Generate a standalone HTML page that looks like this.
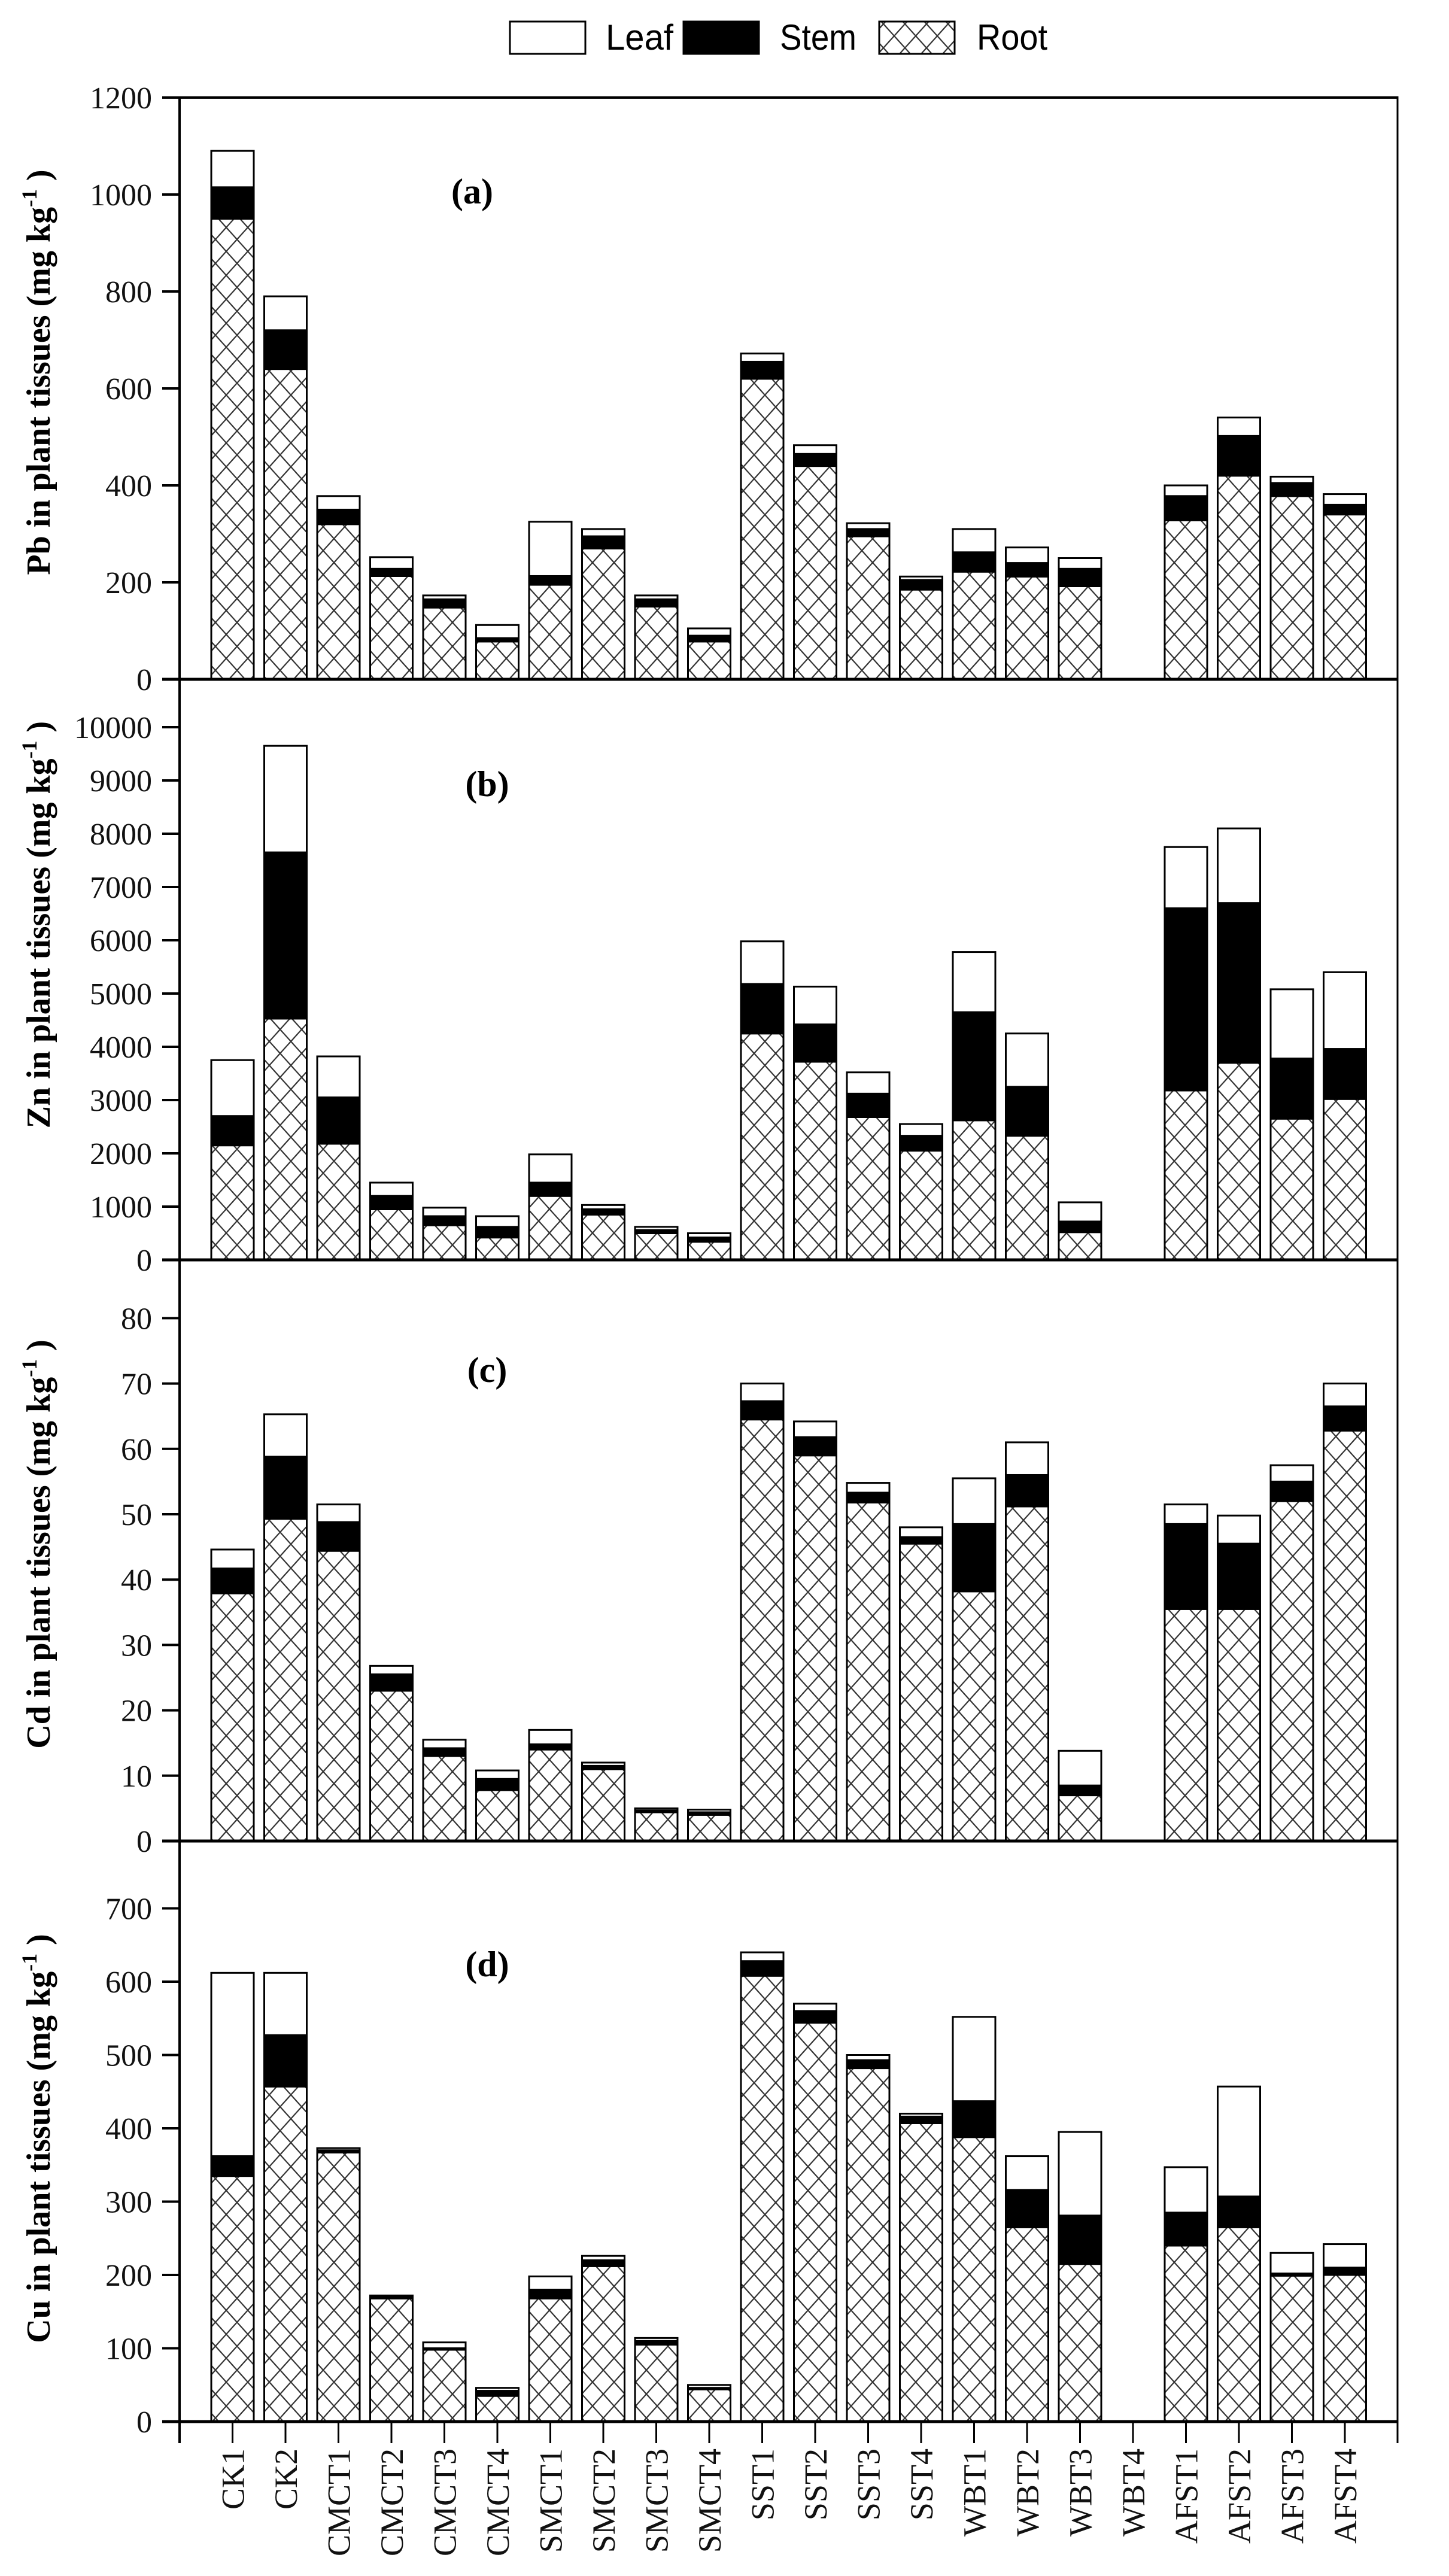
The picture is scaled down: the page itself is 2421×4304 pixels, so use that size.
<!DOCTYPE html>
<html><head><meta charset="utf-8"><style>
html,body{margin:0;padding:0;background:#fff;}
svg{display:block;}
</style></head><body>
<svg id="s" xmlns="http://www.w3.org/2000/svg" width="2421" height="4304" viewBox="0 0 2421 4304">
<defs>
<pattern id="h" patternUnits="userSpaceOnUse" width="36" height="40" x="0" y="0">
<rect width="36" height="40" fill="#fff"/>
<path d="M0,0 L36,40 M36,0 L0,40" stroke="#333" stroke-width="2.2" fill="none"/>
</pattern>
</defs>
<g id="g"></g>
</svg>
<script>
const NS="http://www.w3.org/2000/svg";
const g=document.getElementById('g');
function el(t,a,txt){const e=document.createElementNS(NS,t);for(const k in a)e.setAttribute(k,a[k]);if(txt!==undefined)e.textContent=txt;g.appendChild(e);return e;}
const names=["CK1","CK2","CMCT1","CMCT2","CMCT3","CMCT4","SMCT1","SMCT2","SMCT3","SMCT4","SST1","SST2","SST3","SST4","WBT1","WBT2","WBT3","WBT4","AFST1","AFST2","AFST3","AFST4"];
const L=300,R=2335,P=88.5,BW=71;
const panels=[
{top:163,zero:1135,k:0.81,ticks:[0,200,400,600,800,1000,1200],el:"Pb",lab:"(a)",lx:789,ly:340,ty:622,
d:[[1090,1015,950],[790,720,640],[378,350,320],[252,228,213],[173,165,148],[112,85,78],[325,213,195],[310,295,270],[173,165,150],[105,90,78],[672,655,620],[483,465,440],[322,310,295],[212,205,185],[310,262,222],[272,240,212],[250,228,192],null,[400,378,328],[540,502,420],[418,405,378],[382,360,340]]},
{top:1135,zero:2105,k:0.089,ticks:[0,1000,2000,3000,4000,5000,6000,7000,8000,9000,10000],el:"Zn",lab:"(b)",lx:814,ly:1330,ty:1545,
d:[[3750,2700,2150],[9650,7650,4530],[3820,3050,2180],[1450,1200,950],[980,820,650],[820,620,420],[1980,1450,1200],[1030,950,850],[620,560,500],[500,420,340],[5980,5180,4250],[5130,4420,3720],[3520,3120,2680],[2550,2330,2050],[5780,4650,2620],[4250,3250,2330],[1080,720,520],null,[7750,6600,3180],[8100,6700,3700],[5080,3780,2650],[5400,3960,3020]]},
{top:2105,zero:3076,k:10.92,ticks:[0,10,20,30,40,50,60,70,80],el:"Cd",lab:"(c)",lx:814,ly:2309,ty:2580,
d:[[44.6,41.7,37.9],[65.3,58.8,49.3],[51.5,48.8,44.4],[26.8,25.5,23],[15.5,14.2,13],[10.8,9.5,7.8],[17,14.8,14],[12,11.5,11],[5,4.7,4.4],[4.8,4.4,4],[70,67.3,64.5],[64.2,61.8,59],[54.8,53.3,51.8],[48,46.5,45.5],[55.5,48.5,38.2],[61,56,51.2],[13.8,8.5,7],null,[51.5,48.5,35.5],[49.8,45.5,35.5],[57.5,55,52],[70,66.5,62.8]]},
{top:3076,zero:4046,k:1.225,ticks:[0,100,200,300,400,500,600,700],el:"Cu",lab:"(d)",lx:814,ly:3302,ty:3573,
d:[[612,362,335],[612,527,457],[373,370,367],[172,170,168],[108,100,98],[46,42,35],[198,180,168],[226,220,212],[114,110,105],[50,46,44],[640,628,608],[570,560,544],[500,493,482],[420,416,407],[552,437,388],[362,316,265],[395,281,215],null,[347,285,240],[457,307,265],[230,202,199],[242,210,200]]}
];
const serif='"Liberation Serif", "DejaVu Serif", serif';
panels.forEach(p=>{
  p.d.forEach((v,i)=>{
    if(!v)return;
    const cx=L+P*(i+1),x=cx-BW/2;
    const y=val=>p.zero-val*p.k;
    // root
    el('rect',{x:x,y:y(v[2]),width:BW,height:p.zero-y(v[2]),fill:'url(#h)',stroke:'#000','stroke-width':3});
    el('rect',{x:x,y:y(v[1]),width:BW,height:y(v[2])-y(v[1]),fill:'#000',stroke:'#000','stroke-width':3});
    el('rect',{x:x,y:y(v[0]),width:BW,height:y(v[1])-y(v[0]),fill:'#fff',stroke:'#000','stroke-width':3});
  });
  p.ticks.forEach(t=>{
    const yy=p.zero-t*p.k;
    el('line',{x1:271,y1:yy,x2:L,y2:yy,stroke:'#000','stroke-width':4});
    el('text',{x:254,y:yy+18,'text-anchor':'end','font-family':serif,'font-size':52,fill:'#111'},String(t));
  });
  el('line',{x1:L-29,y1:p.zero,x2:R,y2:p.zero,stroke:'#000','stroke-width':5});
  el('text',{x:p.lx,y:p.ly,'text-anchor':'middle','font-family':serif,'font-size':60,'font-weight':'bold'},p.lab);
  const t=el('text',{transform:`translate(83,${p.ty}) rotate(-90)`,'text-anchor':'middle','font-family':serif,'font-size':56,'font-weight':'bold'});
  t.appendChild(document.createTextNode(p.el+" in plant tissues (mg kg"));
  const sp=document.createElementNS(NS,'tspan');sp.setAttribute('dy',-22);sp.setAttribute('font-size',36);sp.textContent="-1";t.appendChild(sp);
  const sp2=document.createElementNS(NS,'tspan');sp2.setAttribute('dy',22);sp2.textContent=" )";t.appendChild(sp2);
});
// frame
el('line',{x1:L,y1:163,x2:R,y2:163,stroke:'#000','stroke-width':4});
el('line',{x1:L,y1:161,x2:L,y2:4082,stroke:'#000','stroke-width':4});
el('line',{x1:R,y1:161,x2:R,y2:4082,stroke:'#000','stroke-width':3});
names.forEach((n,i)=>{
  const cx=L+P*(i+1);
  el('line',{x1:cx,y1:4046,x2:cx,y2:4082,stroke:'#000','stroke-width':3});
  el('text',{transform:`translate(${cx+19},4091) rotate(-90)`,'text-anchor':'end','font-family':serif,'font-size':54,fill:'#111'},n);
});
// legend
const sans='"Liberation Sans", Arial, sans-serif';
el('rect',{x:852,y:36,width:126,height:54,fill:'#fff',stroke:'#000','stroke-width':3});
el('text',{x:1012,y:83,'font-family':sans,'font-size':60,textLength:113,lengthAdjust:'spacingAndGlyphs'},'Leaf');
el('rect',{x:1142,y:36,width:126,height:54,fill:'#000',stroke:'#000','stroke-width':3});
el('text',{x:1303,y:83,'font-family':sans,'font-size':60,textLength:128,lengthAdjust:'spacingAndGlyphs'},'Stem');
el('rect',{x:1469,y:36,width:126,height:54,fill:'url(#h)',stroke:'#000','stroke-width':3});
el('text',{x:1632,y:83,'font-family':sans,'font-size':60,textLength:118,lengthAdjust:'spacingAndGlyphs'},'Root');
</script>
</body></html>
